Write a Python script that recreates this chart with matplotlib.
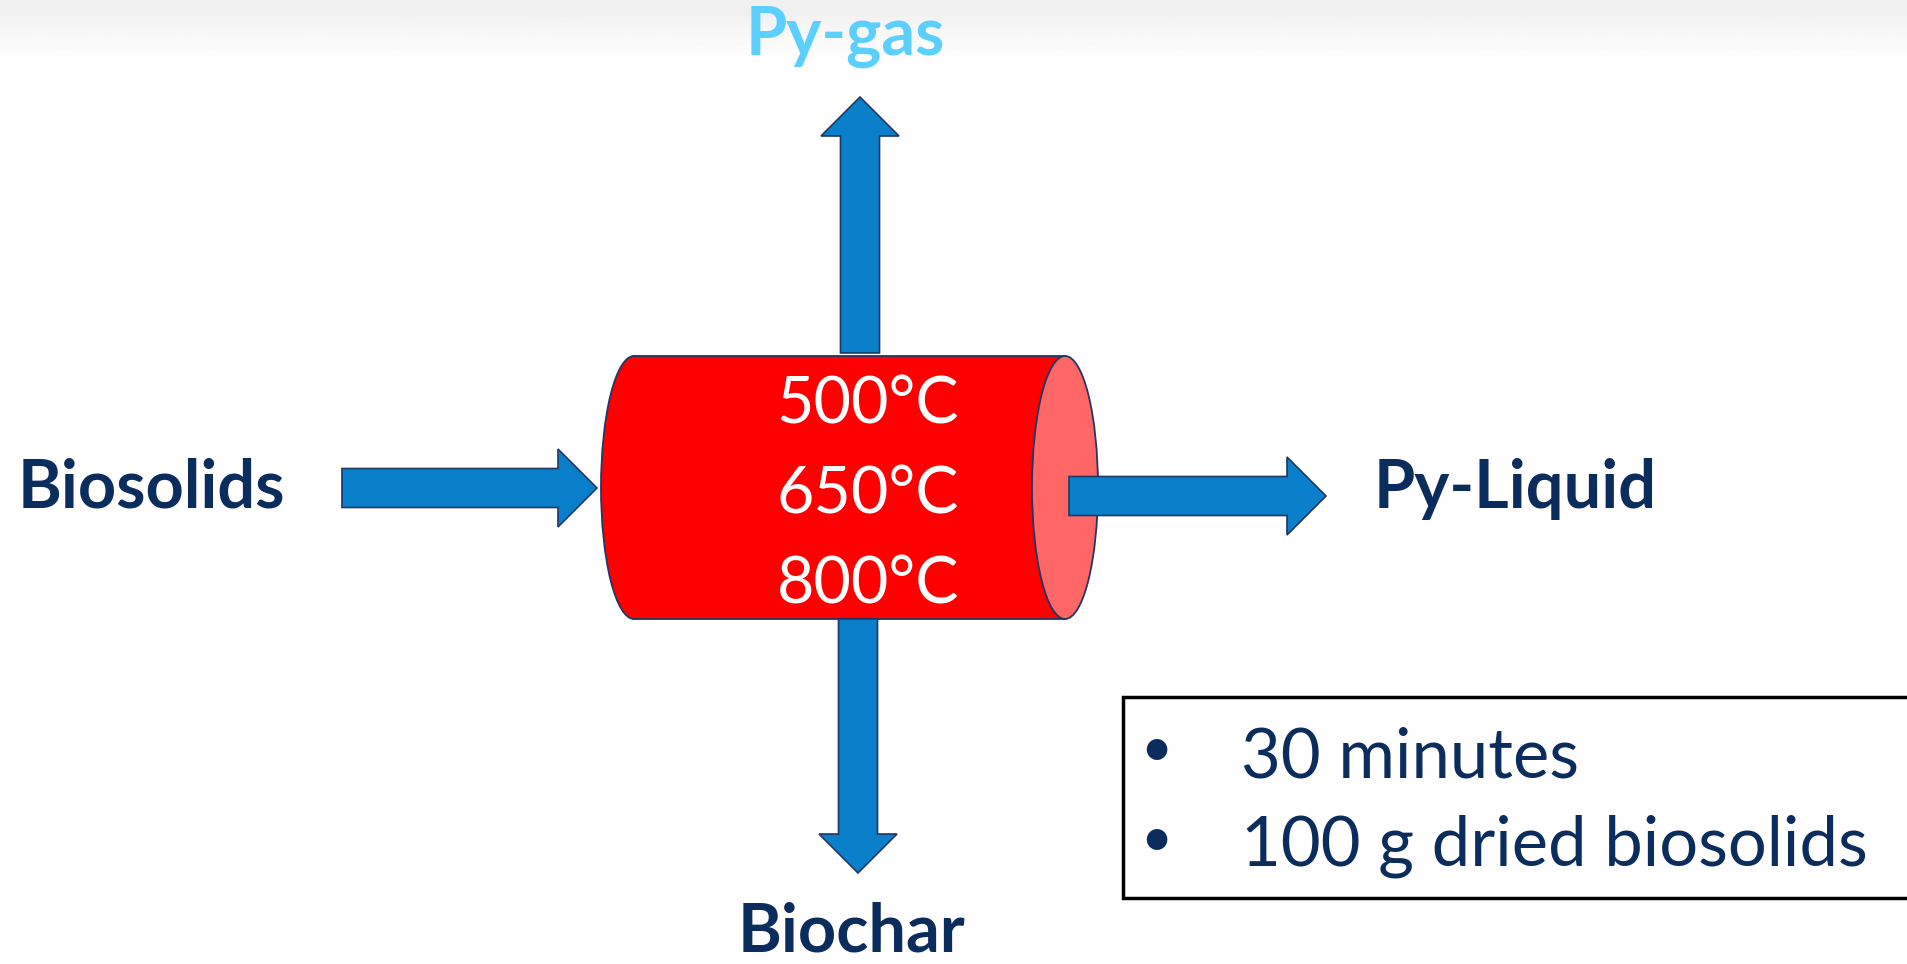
import numpy as np
import matplotlib.pyplot as plt
from matplotlib.patches import Ellipse, Rectangle, FancyArrow

# Diagram content
feed_label = 'Biosolids'
product_labels = ['Py-gas', 'Py-Liquid', 'Biochar']
temperatures = ['500°C', '650°C', '800°C']
conditions = ['30 minutes', '100 g dried biosolids']

navy = '#0b2d5e'
edge = '#1f3864'
arrow_blue = '#0b80ca'

plt.rcParams['font.family'] = ['Lato', 'DejaVu Sans']

W, H = 1907, 964
fig = plt.figure(figsize=(W / 100, H / 100), dpi=100)
ax = fig.add_axes([0, 0, 1, 1])
ax.set_xlim(0, W)
ax.set_ylim(H, 0)
ax.axis('off')

# faint grey band at the top of the slide
grad = np.linspace(0.95, 1.0, 60).reshape(-1, 1)
ax.imshow(grad, cmap='gray', vmin=0, vmax=1, extent=[0, W, 60, 15], aspect='auto', zorder=0)
ax.add_patch(Rectangle((0, 0), W, 15, color='#f0f0f0', zorder=0))

# reactor cylinder
x0, x1, y0, y1 = 634, 1065, 356, 619
ew = 66
ax.add_patch(Ellipse((x0, (y0 + y1) / 2), ew, y1 - y0, fc='#ff0000', ec=edge, lw=1.3, zorder=1))
ax.add_patch(Rectangle((x0, y0), x1 - x0, y1 - y0, fc='#ff0000', ec='none', zorder=2))
ax.plot([x0, x1], [y0, y0], color=edge, lw=1.3, zorder=3)
ax.plot([x0, x1], [y1, y1], color=edge, lw=1.3, zorder=3)
ax.add_patch(Ellipse((x1, (y0 + y1) / 2), ew, y1 - y0, fc='#ff6666', ec=edge, lw=1.3, zorder=3))

# flow arrows
akw = dict(width=39, head_width=78, head_length=39, length_includes_head=True,
           fc=arrow_blue, ec=edge, lw=1.2, zorder=4)
ax.add_patch(FancyArrow(342, 488, 597 - 342, 0, **akw))   # feed in
ax.add_patch(FancyArrow(860, 353, 0, 97 - 353, **akw))    # gas up
ax.add_patch(FancyArrow(1069, 496, 1326 - 1069, 0, **akw))  # liquid out
ax.add_patch(FancyArrow(858, 619, 0, 873 - 619, **akw))   # char down

# labels
ax.text(18, 508, feed_label, color=navy, fontsize=48, fontweight='bold', va='baseline', ha='left', zorder=5)
ax.text(845, 55, product_labels[0], color='#5bd0ff', fontsize=48, fontweight='bold', va='baseline', ha='center', zorder=5)
ax.text(1374, 508, product_labels[1], color=navy, fontsize=48, fontweight='bold', va='baseline', ha='left', zorder=5)
ax.text(851, 951, product_labels[2], color=navy, fontsize=48, fontweight='bold', va='baseline', ha='center', zorder=5)

for t, yb in zip(temperatures, [424, 513, 603]):
    ax.text(868, yb, t, color='white', fontsize=46.5, va='baseline', ha='center', zorder=5)

# conditions box
ax.add_patch(Rectangle((1123, 697), 900, 201, fc='white', ec='black', lw=2.5, zorder=5))
for c, yb, yc in zip(conditions, [777, 866], [750, 840]):
    ax.text(1156, yc, '•', color=navy, fontsize=40, va='center', ha='center', zorder=6)
    ax.text(1241, yb, c, color=navy, fontsize=49.5, va='baseline', ha='left', zorder=6)

fig.savefig('out.png', dpi=100)
